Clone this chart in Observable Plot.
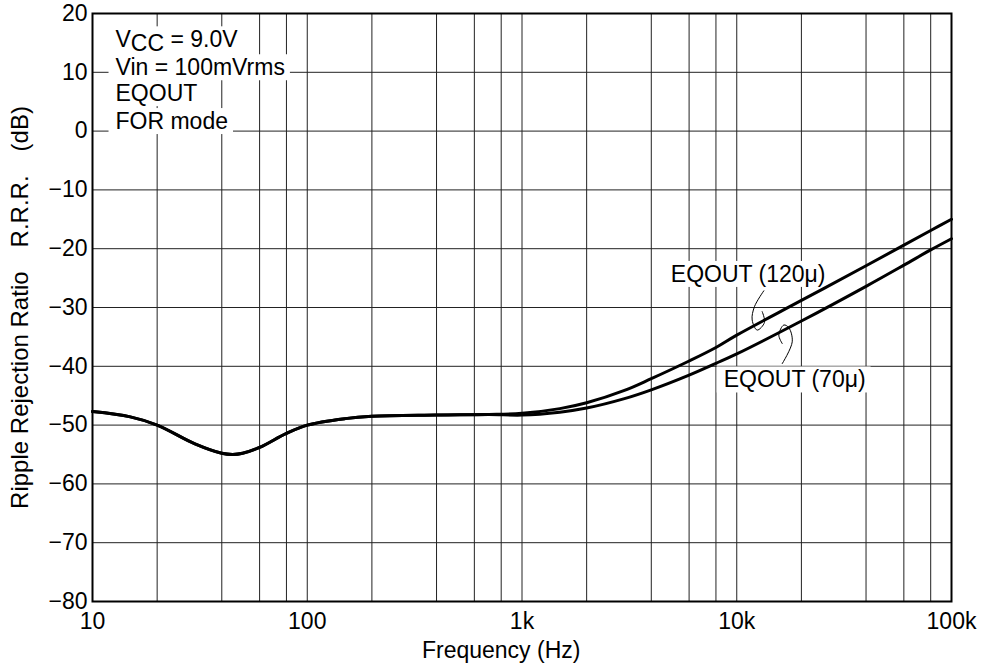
<!DOCTYPE html>
<html>
<head>
<meta charset="utf-8">
<script src="https://cdn.jsdelivr.net/npm/d3@7"></script>
<script src="https://cdn.jsdelivr.net/npm/@observablehq/plot@0.6"></script>
<style>
  html, body { margin: 0; padding: 0; background: #fff; }
  #chart { width: 986px; height: 667px; }
</style>
</head>
<body>
<div id="chart"></div>
<script>
// ---- data ----
const freqs = [10, 15, 20, 30, 40, 45, 50, 60, 80, 100, 150, 200, 400, 700, 1000, 1500, 2000, 3000, 4000, 6000, 8000, 10000, 20000, 40000, 60000, 80000, 100000];
const rrr120 = [-47.7, -48.6, -50.0, -53.2, -54.8, -55.0, -54.8, -53.8, -51.4, -50.0, -48.9, -48.5, -48.3, -48.2, -48.0, -47.2, -46.2, -44.1, -42.1, -39.1, -36.8, -34.7, -28.8, -22.9, -19.4, -16.9, -15.0];
const rrr70  = [-47.7, -48.6, -50.0, -53.2, -54.8, -55.0, -54.8, -53.8, -51.4, -50.0, -48.9, -48.5, -48.3, -48.2, -48.3, -47.8, -47.1, -45.5, -44.0, -41.5, -39.5, -37.9, -32.3, -26.4, -22.8, -20.2, -18.3];

const seriesNames = ["EQOUT (120μ)", "EQOUT (70μ)"];
const xGrid = [10, 20, 40, 60, 80, 100, 200, 400, 600, 800, 1000, 2000, 4000, 6000, 8000, 10000, 20000, 40000, 60000, 80000, 100000];
const xTickValues = [10, 100, 1000, 10000, 100000];
const xTickLabels = ["10", "100", "1k", "10k", "100k"];
const yTicks = [-80, -70, -60, -50, -40, -30, -20, -10, 0, 10, 20];
const noteLines = ["VCC = 9.0V", "Vin = 100mVrms", "EQOUT", "FOR mode"];
const xTitle = "Frequency (Hz)";
const yTitle = "Ripple Rejection Ratio\u2003R.R.R.\u2003(dB)";

// leader squiggles (freq, dB)
const leader120F = [13366, 12093, 11797, 12446, 13464, 13136];
const leader120Y = [-27.16, -29.85, -32.12, -33.84, -32.53, -30.70];
const leader70F = [16283, 18126, 17477, 16566, 15700, 16283];
const leader70Y = [-39.55, -35.84, -33.44, -32.98, -34.69, -36.13];

// ---- build tables ----
const rows120 = freqs.map((f, i) => ({f, v: rrr120[i]}));
const rows70 = freqs.map((f, i) => ({f, v: rrr70[i]}));
const lead120 = leader120F.map((f, i) => ({f, v: leader120Y[i]}));
const lead70 = leader70F.map((f, i) => ({f, v: leader70Y[i]}));
const noteRows = noteLines.map((t, i) => ({t, f: 12.8, v: [15.5, 10.75, 6.35, 1.6][i]}));
const seriesLabels = [
  {t: seriesNames[0], f: 11300, v: -24.4},
  {t: seriesNames[1], f: 18600, v: -42.35}
];

const FONT = "'Liberation Sans', Arial, Helvetica, sans-serif";
const FS = 23;

const chart = Plot.plot({
  width: 986,
  height: 667,
  marginLeft: 92,
  marginRight: 35,
  marginTop: 13,
  marginBottom: 66,
  style: {fontFamily: FONT, fontSize: FS + "px", color: "black", background: "white"},
  x: {type: "log", domain: [10, 100000]},
  y: {domain: [-80, 20]},
  marks: [
    Plot.ruleX(xGrid, {stroke: "#222", strokeWidth: 1}),
    Plot.ruleY(yTicks, {stroke: "#222", strokeWidth: 1}),
    Plot.text(noteRows, {x: "f", y: "v", text: "t", textAnchor: "start", fontSize: FS, fill: "black"}),
    Plot.text(seriesLabels, {x: "f", y: "v", text: "t", textAnchor: "middle", fontSize: FS, fill: "black"}),
    Plot.line(lead120, {x: "f", y: "v", curve: "catmull-rom", stroke: "black", strokeWidth: 1}),
    Plot.line(lead70, {x: "f", y: "v", curve: "catmull-rom", stroke: "black", strokeWidth: 1}),
    Plot.line(rows70, {x: "f", y: "v", curve: "catmull-rom", stroke: "black", strokeWidth: 3}),
    Plot.line(rows120, {x: "f", y: "v", curve: "catmull-rom", stroke: "black", strokeWidth: 3}),
    Plot.frame({stroke: "black", strokeWidth: 2}),
    Plot.axisX(xTickValues, {
      tickSize: 0, tickPadding: 11, fontSize: FS, label: null,
      tickFormat: (d) => xTickLabels[xTickValues.indexOf(d)]
    }),
    Plot.axisY(yTicks, {tickSize: 0, tickPadding: 5, fontSize: FS, label: null}),
    Plot.text([xTitle], {x: 800, frameAnchor: "bottom", dy: 56, fontSize: FS, fill: "black"}),
    Plot.text([yTitle], {frameAnchor: "left", textAnchor: "middle", lineAnchor: "middle", rotate: -90, dx: -72, fontSize: 24, fill: "black"})
  ]
});

document.getElementById("chart").appendChild(chart);

const NS = "http://www.w3.org/2000/svg";
const norm = (s) => s.replace(/\s+/g, " ").trim();
const boxed = new Set([...noteLines, ...seriesNames].map(norm));
const noteTexts = Array.from(chart.querySelectorAll("text")).filter((t) => boxed.has(norm(t.textContent)));
// subscript for V_CC
noteTexts.forEach((t) => {
  if (norm(t.textContent) === norm(noteLines[0])) {
    while (t.firstChild) t.removeChild(t.firstChild);
    const a = document.createElementNS(NS, "tspan"); a.textContent = "V";
    const b = document.createElementNS(NS, "tspan"); b.textContent = "CC"; b.setAttribute("dy", "4");
    const c = document.createElementNS(NS, "tspan"); c.textContent = " = 9.0V"; c.setAttribute("dy", "-4");
    t.appendChild(a); t.appendChild(b); t.appendChild(c);
  }
});
// white boxes behind annotation texts
noteTexts.forEach((t) => {
  const bb = t.getBBox();
  const r = document.createElementNS(NS, "rect");
  r.setAttribute("x", bb.x - 7);
  r.setAttribute("y", bb.y);
  r.setAttribute("width", bb.width + 12);
  r.setAttribute("height", bb.height);
  r.setAttribute("fill", "white");
  r.setAttribute("stroke", "none");
  const tr = t.getAttribute("transform");
  if (tr) r.setAttribute("transform", tr);
  t.parentNode.insertBefore(r, t);
});
</script>
</body>
</html>
